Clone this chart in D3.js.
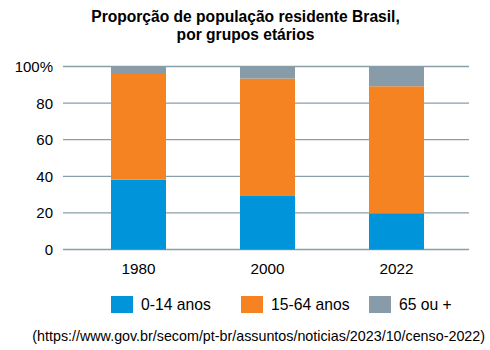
<!DOCTYPE html>
<html lang="pt-BR">
<head>
<meta charset="utf-8">
<title>Proporção de população residente Brasil</title>
<style>
  body { margin: 0; background: #fff; }
  text { font-family: "Liberation Sans", Arial, sans-serif; fill: #000; }
</style>
</head>
<body>
<script src="https://cdn.jsdelivr.net/npm/d3@7"></script>
<script>
var years = ["1980", "2000", "2022"];
var grupos = ["0-14 anos", "15-64 anos", "65 ou +"];
var jovens = [38.2, 29.6, 19.8];
var adultos = [57.7, 63.8, 69.4];
var idosos = [4.1, 6.6, 10.8];
var yTicks = [0, 20, 40, 60, 80, 100];
var cores = ["#0095da", "#f58322", "#879ca8"];

var w = 490, h = 350;
var svg = d3.select("body").append("svg").attr("width", w).attr("height", h);

var rows = years.map(function(y, i) {
  return { ano: y, "0-14 anos": jovens[i], "15-64 anos": adultos[i], "65 ou +": idosos[i] };
});
var stack = d3.stack().keys(grupos)(rows);

// centros das barras, largura fixa
var x = d3.scalePoint().domain(years).range([138.5, 396.5]);
var bw = 55;
var y = d3.scaleLinear().domain([0, 100]).range([249.5, 66.5]);

// grid
svg.append("g").selectAll("line").data(yTicks).enter().append("line")
  .attr("x1", 63).attr("x2", 469)
  .attr("y1", function(d) { return y(d); })
  .attr("y2", function(d) { return y(d); })
  .attr("stroke", "#8a9ea9").attr("stroke-width", 1.3);

svg.append("g").selectAll("text").data(yTicks).enter().append("text")
  .attr("x", 53).attr("y", function(d) { return y(d) + 5.5; })
  .attr("text-anchor", "end").style("font-size", "15px")
  .text(function(d) { return d === 100 ? "100%" : d; });

// barras
svg.append("g").selectAll("g").data(stack).enter().append("g")
  .attr("fill", function(d, i) { return cores[i]; })
  .selectAll("rect").data(function(d) { return d; }).enter().append("rect")
  .attr("x", function(d) { return x(d.data.ano) - bw / 2; })
  .attr("width", bw)
  .attr("y", function(d) { return y(d[1]); })
  .attr("height", function(d) { return y(d[0]) - y(d[1]); });

svg.append("g").selectAll("text").data(years).enter().append("text")
  .attr("x", function(d) { return x(d); }).attr("y", 274)
  .attr("text-anchor", "middle").style("font-size", "15.3px")
  .text(function(d) { return d; });

// titulo
svg.append("text").attr("x", 245.5).attr("y", 22).attr("text-anchor", "middle")
  .style("font-size", "15.6px").style("font-weight", "bold")
  .text("Proporção de população residente Brasil,");
svg.append("text").attr("x", 245.5).attr("y", 40).attr("text-anchor", "middle")
  .style("font-size", "15.6px").style("font-weight", "bold")
  .text("por grupos etários");

// legenda
var lx = [111, 241, 369];
var leg = svg.append("g").selectAll("g").data(grupos).enter().append("g")
  .attr("transform", function(d, i) { return "translate(" + lx[i] + ",296)"; });
leg.append("rect").attr("width", 22).attr("height", 17)
  .attr("fill", function(d, i) { return cores[i]; });
leg.append("text").attr("x", 30).attr("y", 14).style("font-size", "15.7px")
  .text(function(d) { return d; });

svg.append("text").attr("x", 485).attr("y", 341).attr("text-anchor", "end")
  .style("font-size", "14.3px")
  .text("(https://www.gov.br/secom/pt-br/assuntos/noticias/2023/10/censo-2022)");
</script>
</body>
</html>
